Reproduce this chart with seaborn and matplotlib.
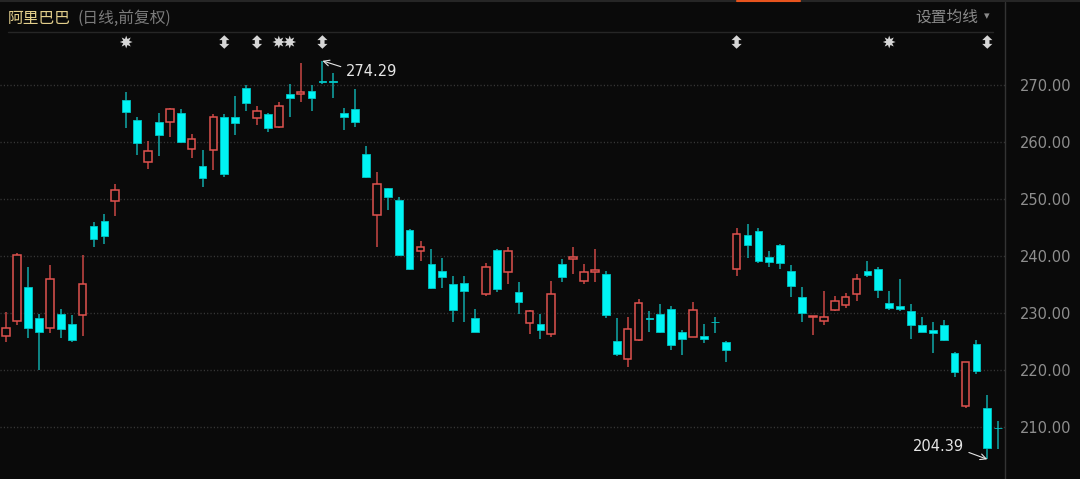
import numpy as np
import pandas as pd
import matplotlib
matplotlib.use("Agg")
import matplotlib.pyplot as plt
import matplotlib.transforms as mtransforms
from matplotlib.path import Path
from matplotlib.lines import Line2D
import seaborn as sns

# ---------------- data ----------------
opens = [226.1, 228.7, 234.7, 229.1, 227.5, 229.8, 228.2, 229.7, 245.3, 246.2,
         249.7, 267.4, 264.0, 256.5, 263.5, 263.5, 265.1, 258.8, 255.9, 258.6,
         264.4, 264.5, 269.5, 264.2, 264.9, 262.7, 268.5, 268.5, 269.0, 270.8,
         270.7, 265.2, 265.9, 257.9, 247.2, 251.9, 249.9, 244.6, 241.0, 238.7,
         237.5, 235.1, 235.4, 229.1, 233.3, 241.1, 237.2, 233.7, 228.35, 228.2,
         226.4, 238.6, 239.6, 235.7, 237.3, 236.9, 225.1, 221.9, 225.4, 229.2,
         229.9, 230.75, 226.7, 225.9, 226.1, 228.5, 224.9, 237.8, 243.7, 244.4,
         239.9, 241.9, 237.5, 232.9, 229.3, 228.7, 230.5, 231.45, 233.4, 237.5,
         237.8, 231.8, 231.3, 230.35, 228.0, 227.1, 228.0, 223.0, 213.7, 224.7,
         213.3, 209.9]
highs = [230.2, 240.6, 238.1, 229.8, 238.4, 230.7, 229.7, 240.2, 246.0, 247.4,
         252.75, 268.9, 264.4, 260.3, 265.1, 266.1, 265.8, 261.5, 258.7, 264.9,
         264.9, 268.1, 270.0, 266.3, 265.1, 267.0, 270.2, 273.9, 270.1, 274.29,
         272.2, 266.1, 269.3, 259.4, 254.8, 252.0, 250.4, 244.8, 242.7, 241.2,
         239.7, 236.5, 236.5, 230.8, 238.8, 241.3, 241.6, 235.5, 230.6, 229.9,
         235.7, 239.5, 241.6, 238.6, 241.3, 237.4, 229.2, 229.3, 232.5, 230.45,
         231.6, 231.3, 227.1, 232.0, 228.2, 229.4, 225.1, 244.9, 245.7, 245.0,
         240.9, 242.2, 238.4, 234.6, 229.55, 234.0, 233.0, 233.6, 236.9, 239.2,
         238.1, 233.9, 236.1, 231.6, 229.4, 228.5, 228.8, 223.2, 221.5, 225.4,
         215.6, 211.1]
lows = [224.9, 227.9, 225.6, 220.0, 226.6, 225.6, 225.0, 226.1, 241.6, 242.2,
        247.1, 262.5, 257.8, 255.3, 257.6, 261.0, 259.8, 257.2, 252.1, 255.1,
        254.0, 261.2, 265.5, 263.0, 261.75, 262.5, 264.4, 267.1, 265.5, 270.2,
        267.7, 262.2, 262.6, 253.8, 241.7, 248.1, 240.0, 237.6, 239.2, 234.3,
        234.5, 228.5, 228.4, 226.7, 233.1, 233.7, 235.1, 229.8, 226.4, 225.5,
        225.9, 235.5, 236.9, 235.1, 235.5, 229.2, 222.5, 220.5, 225.1, 226.7,
        226.5, 223.5, 222.7, 225.8, 224.8, 226.6, 221.5, 236.6, 239.7, 238.8,
        238.2, 237.8, 232.8, 228.5, 226.25, 227.9, 230.4, 231.0, 232.2, 236.3,
        232.6, 230.6, 230.4, 225.5, 226.7, 223.0, 225.2, 218.8, 213.3, 219.3,
        204.39, 206.2]
closes = [227.5, 240.2, 227.5, 226.7, 236.0, 227.2, 225.4, 235.1, 243.1, 243.6,
          251.6, 265.3, 259.8, 258.4, 261.2, 265.8, 260.1, 260.5, 253.7, 264.5,
          254.4, 263.4, 266.9, 265.5, 262.5, 266.4, 267.7, 268.9, 267.8, 270.6,
          270.6, 264.4, 263.5, 253.9, 252.7, 250.4, 240.2, 237.8, 241.6, 234.5,
          236.4, 230.5, 234.0, 226.8, 238.1, 234.3, 240.9, 231.9, 230.35, 227.0,
          233.4, 236.4, 239.8, 237.2, 237.65, 229.7, 222.9, 227.2, 231.8, 229.05,
          226.8, 224.4, 225.5, 230.6, 225.5, 228.4, 223.5, 243.9, 242.0, 239.2,
          239.05, 238.8, 234.8, 230.0, 229.5, 229.35, 232.2, 232.8, 236.0, 236.8,
          234.1, 231.0, 230.8, 228.0, 226.8, 226.5, 225.4, 219.65, 221.4, 219.9,
          206.3, 209.8]

event_idx = [11, 20, 23, 25, 26, 29, 67, 81, 90]
event_kind = ["star", "arrow", "arrow", "star", "star", "arrow", "arrow", "star", "arrow"]

y_ticks = [210, 220, 230, 240, 250, 260, 270]
y_tick_labels = ["210.00", "220.00", "230.00", "240.00", "250.00", "260.00", "270.00"]

title_name = "阿里巴巴"
title_sub = "(日线,前复权)"
ma_label = "设置均线"

# ---------------- style ----------------
BG = "#0a0a0a"
UP_EDGE = "#e0524f"
UP_WICK = "#c94744"
DN_FACE = "#00f4f4"
DN_EDGE = "#00c4c4"
DN_WICK = "#10a9a9"
GRID = "#3a3a3a"
LABEL = "#8e8e8e"

sns.set_theme(style="dark", rc={
    "axes.facecolor": BG,
    "figure.facecolor": BG,
    "savefig.facecolor": BG,
    "axes.grid": False,
})
plt.rcParams["font.family"] = ["Noto Sans CJK SC", "DejaVu Sans"]

df = pd.DataFrame({"open": opens, "high": highs, "low": lows, "close": closes})
df["idx"] = np.arange(len(df))
df["up"] = df["close"] >= df["open"]

W, H = 1080, 479
fig = plt.figure(figsize=(W / 100, H / 100), dpi=100)
ax = fig.add_axes([0, 0, 1005 / W, 447 / H])
ax.set_facecolor(BG)

# grid lines
for yv in y_ticks:
    ax.axhline(yv, color=GRID, lw=1.0, ls=(0, (0.8, 1.6)), zorder=0)

up = df[df["up"]]
dn = df[~df["up"]]
bw = 0.70

# down candles: full wick + filled body
ax.vlines(dn["idx"], dn["low"], dn["high"], color=DN_WICK, lw=1.1, zorder=2)
ax.bar(dn["idx"], np.maximum(dn["open"] - dn["close"], 0.15), bottom=dn["close"],
       width=bw, color=DN_FACE, edgecolor=DN_EDGE, linewidth=0.6, zorder=3)

# up candles: hollow bodies, wicks outside body
ax.vlines(up["idx"], up["close"], up["high"], color=UP_WICK, lw=1.1, zorder=2)
ax.vlines(up["idx"], up["low"], up["open"], color=UP_WICK, lw=1.1, zorder=2)
ax.bar(up["idx"], np.maximum(up["close"] - up["open"], 0.15), bottom=up["open"],
       width=bw, color=BG, edgecolor=UP_EDGE, linewidth=1.1, zorder=3)

px0, step = 6.3, 10.9
ax.set_xlim(-px0 / step, (1005 - px0) / step)
ax.set_ylim(270 - (479 - 85.3) / 5.7, 270 + (85.3 - 32) / 5.7)

ax.set_yticks(y_ticks)
ax.set_yticklabels(y_tick_labels)
ax.yaxis.tick_right()
ax.tick_params(axis="y", length=0, pad=11, labelsize=10.5, labelcolor=LABEL)
for lab in ax.get_yticklabels():
    lab.set_family("DejaVu Sans")
ax.set_xticks([])
for s in ["top", "left", "bottom", "right"]:
    ax.spines[s].set_visible(False)

# event markers row
arrow_path = Path([(0, 1), (0.75, 0.28), (0.32, 0.28), (0.32, -0.28), (0.75, -0.28),
                   (0, -1), (-0.75, -0.28), (-0.32, -0.28), (-0.32, 0.28), (-0.75, 0.28), (0, 1)],
                  [Path.MOVETO] + [Path.LINETO] * 9 + [Path.CLOSEPOLY])
ev = pd.DataFrame({"idx": event_idx, "kind": event_kind})
trans = mtransforms.blended_transform_factory(ax.transData, ax.transAxes)
ev["y"] = (479 - 42) / 447
stars = ev[ev["kind"] == "star"]
arrs = ev[ev["kind"] == "arrow"]
sns.scatterplot(x=stars["idx"], y=stars["y"], marker=(8, 1, 0), s=85, color="#d6d6d6",
                edgecolor="none", ax=ax, transform=trans, zorder=5, legend=False, clip_on=False)
sns.scatterplot(x=arrs["idx"], y=arrs["y"], marker=arrow_path, s=95, color="#d6d6d6",
                edgecolor="none", ax=ax, transform=trans, zorder=5, legend=False, clip_on=False)
ax.set_xlabel("")
ax.set_ylabel("")

# high / low annotations
hi_i = int(np.argmax(highs))
lo_i = int(np.argmin(lows))
ax.annotate(f"{highs[hi_i]:.2f}", xy=(hi_i, highs[hi_i]), xytext=(23, -11),
            textcoords="offset pixels", ha="left", va="center", fontsize=10.5,
            color="#e6e6e6", family="DejaVu Sans", zorder=6,
            arrowprops=dict(arrowstyle="->", color="#e6e6e6", lw=0.8,
                            shrinkA=1, shrinkB=0, relpos=(0, 0.75)))
ax.annotate(f"{lows[lo_i]:.2f}", xy=(lo_i, lows[lo_i]), xytext=(-23, 13),
            textcoords="offset pixels", ha="right", va="center", fontsize=10.5,
            color="#e6e6e6", family="DejaVu Sans", zorder=6,
            arrowprops=dict(arrowstyle="->", color="#e6e6e6", lw=0.8,
                            shrinkA=1, shrinkB=0, relpos=(1, 0.2)))

# header
def fx(p):
    return p / W

def fy(p):
    return 1 - p / H

fig.text(fx(8), fy(18), title_name, color="#e3cf8c", fontsize=11.3, va="center", ha="left")
fig.text(fx(78), fy(18), title_sub, color="#7c7c7c", fontsize=11.3, va="center", ha="left")
fig.text(fx(978), fy(17), ma_label, color="#8a8a8a", fontsize=11.3, va="center", ha="right")
fig.text(fx(987), fy(16), "▾", color="#8a8a8a", fontsize=8, va="center", ha="center",
         family="DejaVu Sans")

fig.add_artist(Line2D([fx(8), fx(993)], [fy(31.5), fy(31.5)], color="#262626", lw=1.0))
fig.add_artist(Line2D([fx(1004.5), fx(1004.5)], [fy(2), 0], color="#333333", lw=1.0))
fig.add_artist(Line2D([0, 1], [fy(0.8), fy(0.8)], color="#262626", lw=1.5))
fig.add_artist(Line2D([fx(737), fx(800)], [fy(0.5), fy(0.5)], color="#e8541e", lw=1.5))

fig.savefig("out.png", dpi=100, facecolor=BG)
